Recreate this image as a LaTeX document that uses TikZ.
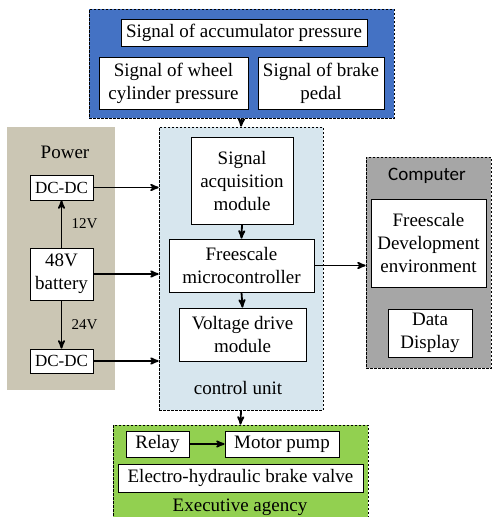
\documentclass[tikz,border=0pt]{standalone}
\usepackage{fontspec}
\setmainfont{Liberation Serif}
\newfontfamily\compfont{Carlito}
\usetikzlibrary{arrows}
\definecolor{sensorblue}{RGB}{68,114,196}
\definecolor{powertan}{RGB}{203,198,180}
\definecolor{ctrlblue}{RGB}{215,230,238}
\definecolor{compgrey}{RGB}{166,166,166}
\definecolor{execgreen}{RGB}{146,208,80}
\tikzset{
  blockbox/.style={draw=black, line width=0.8pt, fill=white, align=center, inner sep=0pt, font=\fontsize{19}{23}\selectfont},
  regionbox/.style={draw=black, line width=0.7pt, dash pattern=on 2.5pt off 1.5pt, inner sep=0pt},
  flow/.style={->, >=stealth', line width=1.8pt},
}
\begin{document}
\begin{tikzpicture} [x=1pt, y=-1pt]
\useasboundingbox (0,0) rectangle (493,517);
% regions
\node[regionbox, fill=sensorblue, minimum width=305, minimum height=109] (sensors) at (241.5,63.5) {};
\node[fill=powertan, inner sep=0pt, minimum width=108, minimum height=263] (power) at (61,258.5) {};
\node[regionbox, fill=ctrlblue, minimum width=164, minimum height=283] (ctrl) at (241,268.5) {};
\node[regionbox, fill=compgrey, minimum width=125, minimum height=211] (comp) at (428.5,262.5) {};
\node[regionbox, fill=execgreen, minimum width=255, minimum height=94] (exec) at (240.5,472) {};
% region titles
\node[font=\fontsize{19}{23}\selectfont] (powertitle) at (65,152) {Power};
\node[font=\fontsize{19}{23}\selectfont] (ctrltitle) at (238,388) {control unit};
\node[font=\compfont\fontsize{19}{23}\selectfont] (comptitle) at (427,176) {Computer};
\node[font=\fontsize{19}{23}\selectfont] (exectitle) at (240,507) {Executive agency};
% sensor signals
\node[blockbox, minimum width=246, minimum height=27] (accum) at (244,32.5) {Signal of accumulator pressure};
\node[blockbox, minimum width=149, minimum height=52] (wheel) at (173.5,83) {Signal of wheel\\cylinder pressure};
\node[blockbox, minimum width=126, minimum height=52] (pedal) at (321,83) {Signal of brake\\pedal};
% power supply
\node[blockbox, minimum width=63, minimum height=25, font=\fontsize{17}{20}\selectfont] (dcup) at (61.5,187.5) {DC-DC};
\node[blockbox, minimum width=63, minimum height=52] (battery) at (61.5,274) {48V\\battery};
\node[blockbox, minimum width=63, minimum height=24, font=\fontsize{17}{20}\selectfont] (dcdown) at (61.5,361) {DC-DC};
% control unit
\node[blockbox, minimum width=102, minimum height=87] (acq) at (242,180.5) {Signal\\acquisition\\module};
\node[blockbox, minimum width=145, minimum height=53] (micro) at (241.5,265.5) {Freescale\\microcontroller};
\node[blockbox, minimum width=127, minimum height=53] (volt) at (242.5,334.5) {Voltage drive\\module};
% computer
\node[blockbox, minimum width=115, minimum height=88] (devenv) at (428.5,243) {Freescale\\Development\\environment};
\node[blockbox, minimum width=84, minimum height=48] (display) at (430,333) {Data\\Display};
% executive agency
\node[blockbox, minimum width=63, minimum height=26] (relay) at (157.5,444) {Relay};
\node[blockbox, minimum width=114, minimum height=26] (pump) at (282,444) {Motor pump};
\node[blockbox, minimum width=245, minimum height=28] (valve) at (240.5,478) {Electro-hydraulic brake valve};
% connections
\draw[flow] (sensors.south) -- (ctrl.north);
\draw[flow] (acq.south) -- (micro.north);
\draw[flow] (micro.south) -- (volt.north);
\draw[flow] (battery.north) -- (dcup.south) node[midway, right=6pt, font=\fontsize{15}{18}\selectfont] {12V};
\draw[flow] (battery.south) -- (dcdown.north) node[midway, right=6pt, font=\fontsize{15}{18}\selectfont] {24V};
\foreach \src in {dcup, battery, dcdown} {
 \draw[flow] (\src.east) -- (\src.east -| ctrl.west);
}
\draw[flow] (micro.east) -- (micro.east -| comp.west);
\draw[flow] (ctrl.south) -- (exec.north);
\draw[flow] (relay.east) -- (pump.west);
\end{tikzpicture}
\end{document}
